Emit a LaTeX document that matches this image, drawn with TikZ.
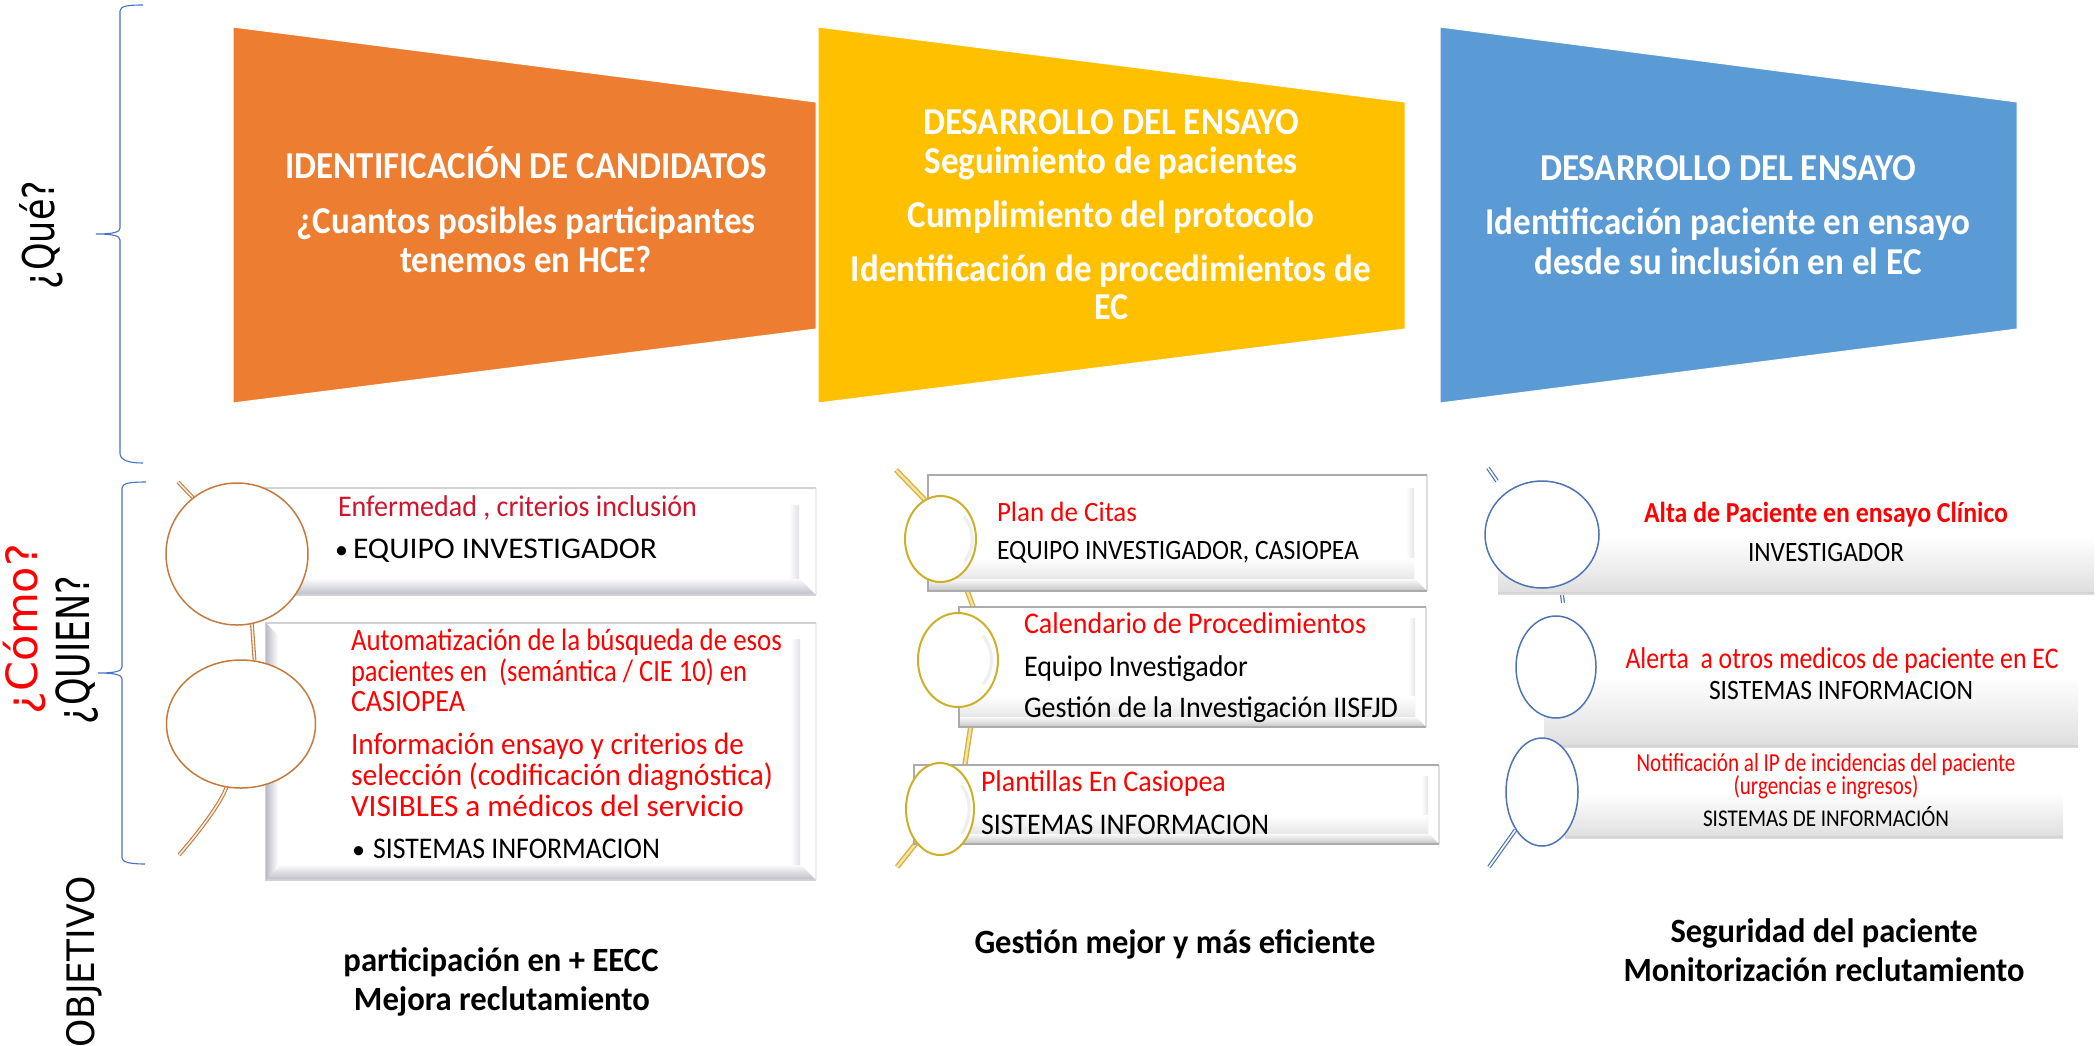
\documentclass[tikz,border=0pt]{standalone}
\usepackage{graphicx}
\usepackage{fontspec}
\setmainfont{Carlito}
\newfontfamily\labelfont{DejaVu Sans}
\usetikzlibrary{shapes.geometric}
\pgfdeclarelayer{stems}
\pgfdeclarelayer{panels}
\pgfsetlayers{stems,panels,main}
\definecolor{cOrange}{HTML}{ED7D31}
\definecolor{cYellow}{HTML}{FFC000}
\definecolor{cBlue}{HTML}{5B9BD5}
\definecolor{cBrace}{HTML}{4472C4}
\definecolor{rimO}{HTML}{C47A3E}
\definecolor{rimY}{HTML}{CDB02A}
\definecolor{rimB}{HTML}{4E74B5}
\definecolor{stemYc}{HTML}{D8B23C}
\definecolor{stemYi}{HTML}{F3E3A6}
\definecolor{crimson}{HTML}{D0142C}
\definecolor{bandL}{HTML}{BDBDC9}
\definecolor{bandM}{HTML}{C4C4C4}
\definecolor{edgeL}{HTML}{D2D2D2}
\definecolor{edgeM}{HTML}{ABABAB}
\definecolor{fadeR}{HTML}{DEDEDE}
\newcommand\fitw[3]{\resizebox{#1pt}{\height}{\fontsize{#2}{#2}\selectfont #3}}
\newcommand\bevelpanel[7]{%
  \fill[white] (#1,#2) rectangle (#3,#4);
  \shade[top color=white,bottom color=#6] (#1,#4-#5) -- (#3-#5,#4-#5) -- (#3,#4) -- (#1,#4) -- cycle;
  \shade[left color=white,right color=#6!45] (#3-#5*1.6,#2+#5) -- (#3-#5,#2+#5) -- (#3-#5,#4-#5) -- (#3-#5*1.6,#4-#5) -- cycle;
  \draw[#7!40,line width=1.6pt] (#3,#2) -- (#3,#4);
  \draw[#7,line width=1.6pt] (#3,#4) -- (#1,#4) -- (#1,#2) -- (#3,#2);
}
\newcommand\softband[4]{%
  \shade[top color=white,bottom color=gray!18] (#1,#3) rectangle (#2,#4);
}
\newcommand\fadepanel[5]{%
  \shade[top color=white,bottom color=#5] (#1,#2) rectangle (#3,#4);
  \fill[#5!85!black,opacity=.3] (#1,#4-2) rectangle (#3,#4);
}
\tikzset{
  funnel/.style={draw=white,line width=1pt},
  brace/.style={draw=cBrace,line width=1.1pt},
  tl/.style={anchor=base west,inner sep=0pt,outer sep=0pt},
  tc/.style={anchor=base,inner sep=0pt,outer sep=0pt},
  side/.style={anchor=center,rotate=90,inner sep=0pt,font=\labelfont},
  head/.style={tc,text=white,font=\bfseries},
  red/.style={text=red},
  blk/.style={text=black},
  lens/.style={ellipse,fill=white,inner sep=0pt,line width=1.5pt},
  lensY/.style={lens,draw=rimY,line width=2pt},
  shine/.style={draw=gray!13,line width=3pt,line cap=round},
  stemO/.style={draw=rimO,double=white!85!rimO,double distance=1.6pt,line width=1.1pt},
  stemY/.style={draw=stemYc,double=stemYi,double distance=2.4pt,line width=1.4pt},
  stemB/.style={draw=rimB,double=white,double distance=1.6pt,line width=1.2pt},
}
\begin{document}
\begin{tikzpicture}[x=1pt,y=-1pt]
\useasboundingbox (0,0) rectangle (2100,1045);
% funnels
\fill[cOrange,funnel] (233,27) -- (816,102) -- (816,329) -- (233,403) -- cycle;
\fill[cYellow,funnel] (818,27) -- (1405,102) -- (1405,329) -- (818,403) -- cycle;
\fill[cBlue,funnel] (1440,27) -- (2017,102) -- (2017,329) -- (1440,403) -- cycle;
% braces
\draw[brace] (143,5) .. controls (128,5) and (120,6) .. (120,11) -- (120,228) .. controls (120,232) and (114,234) .. (96,234) .. controls (114,234) and (120,236) .. (120,240) -- (120,453) .. controls (120,460) and (128,463) .. (143,463);
\draw[brace] (146,482) .. controls (131,482) and (122,483) .. (122,488) -- (122,667) .. controls (122,671) and (116,673) .. (98,673) .. controls (116,673) and (122,675) .. (122,679) -- (122,858) .. controls (122,862) and (130,864) .. (145,864);
% side labels
\node[side] (lblQue) at (41,235) {\scalebox{1}[1.25]{\fontsize{35}{35}\selectfont ¿Qué?}};
\node[side,text=red] (lblComo) at (25,629) {\fontsize{43}{43}\selectfont ¿Cómo?};
\node[side] (lblQuien) at (77,650) {\scalebox{1}[1.3]{\fontsize{35}{35}\selectfont ¿QUIEN?}};
\node[side] (lblObj) at (84,962) {\scalebox{1}[1.05]{\fontsize{36}{36}\selectfont OBJETIVO}};
% funnel text
\node[head] (a1) at (526,178) {\fitw{481}{38}{IDENTIFICACIÓN DE CANDIDATOS}};
\node[head] (a2) at (526,233) {\fitw{459}{38}{¿Cuantos posibles participantes}};
\node[head] (a3) at (526,272) {\fitw{252}{38}{tenemos en HCE?}};
\node[head] (b1) at (1111,134) {\fitw{376}{38}{DESARROLLO DEL ENSAYO}};
\node[head] (b2) at (1111,173) {\fitw{373}{38}{Seguimiento de pacientes}};
\node[head] (b3) at (1111,227) {\fitw{407}{38}{Cumplimiento del protocolo}};
\node[head] (b4) at (1111,281) {\fitw{520}{38}{Identificación de procedimientos de}};
\node[head] (b5) at (1111,319) {\fitw{34}{38}{EC}};
\node[head] (c1) at (1728,180) {\fitw{376}{38}{DESARROLLO DEL ENSAYO}};
\node[head] (c2) at (1728,234) {\fitw{485}{38}{Identificación paciente en ensayo}};
\node[head] (c3) at (1728,274) {\fitw{387}{38}{desde su inclusión en el EC}};
% lenses
\node[lens,draw=rimO,minimum width=142pt,minimum height=142pt] (L1) at (237,554) {};
\node[lens,draw=rimO,minimum width=149pt,minimum height=128pt] (L2) at (241,724) {};
\node[lensY,minimum width=71pt,minimum height=86pt] (M1) at (940.5,539) {};
\node[lensY,minimum width=80pt,minimum height=94pt] (M2) at (958,660) {};
\node[lensY,minimum width=68pt,minimum height=92pt] (M3) at (940,809) {};
\node[lens,draw=rimB,minimum width=114pt,minimum height=107pt] (R1) at (1542,534.5) {};
\node[lens,draw=rimB,minimum width=80pt,minimum height=102pt] (R2) at (1556,667) {};
\node[lens,draw=rimB,minimum width=72pt,minimum height=108pt] (R3) at (1542,792) {};
% soft highlights inside the yellow lenses
\draw[shine] (M1.center) ++(24,-22) arc[start angle=-42,end angle=42,x radius=30,y radius=33];
\draw[shine] (M2.center) ++(25,-24) arc[start angle=-42,end angle=42,x radius=33,y radius=36];
\draw[shine] (M3.center) ++(22,-23) arc[start angle=-42,end angle=42,x radius=28,y radius=35];
\coordinate (endL0) at (178,482);
\coordinate (endL3) at (179,855);
\coordinate (endM0) at (896,470);
\coordinate (endM1) at (975,612);
\coordinate (endM3) at (897,867);
\coordinate (endR0) at (1488,468);
\coordinate (endR0b) at (1497,481);
\coordinate (endR1a) at (1562,595);
\coordinate (endR1b) at (1563,603);
\coordinate (endR3) at (1489,867);
\begin{pgfonlayer}{stems}
\draw[stemO] (endL0) -- (L1.128);
\draw[stemO] (L1.-78) -- (L2.78);
\draw[stemO] (L2.-103) .. controls (222,800) and (205,825) .. (endL3);
\draw[stemY] (endM0) -- (M1.112);
\draw[stemY] (M1.-60) -- (endM1);
\draw[stemY] (M2.-70) -- (M3.56);
\draw[stemY] (M3.-125) -- (endM3);
\draw[stemB] (endR0) -- (endR0b);
\draw[stemB] (endR1a) -- (endR1b);
\draw[stemB] (R3.-125) -- (endR3);
\end{pgfonlayer}
\begin{pgfonlayer}{panels}
\bevelpanel{215}{488}{816}{595}{17}{bandL}{edgeL}
\bevelpanel{266}{623}{816}{880}{16}{bandL}{edgeL}
\shade[left color=bandL,right color=white] (266,623) -- (278,635) -- (278,868) -- (266,880) -- cycle;
\bevelpanel{928}{475}{1427}{591}{13}{bandM}{edgeM}
\softband{929}{1414}{558}{578}
\bevelpanel{959}{607}{1426}{727}{11}{bandM}{edgeM}
\softband{960}{1415}{696}{716}
\bevelpanel{914}{765}{1439}{844}{11}{bandM}{edgeM}
\softband{915}{1428}{815}{833}
\fadepanel{1498}{537}{2094}{594}{fadeR}
\fadepanel{1544}{677}{2078}{747}{fadeR}
\fadepanel{1565}{793}{2063}{838}{fadeR}
\end{pgfonlayer}
% panel texts, left
\node[tl,text=crimson] (t1) at (338,516) {\fitw{359}{30}{Enfermedad , criterios inclusión}};
\node[tl,blk] (t2) at (335,558) {\fontsize{26}{26}\selectfont •};
\node[tl,blk] (t3) at (353,558) {\fitw{304}{30}{EQUIPO INVESTIGADOR}};
\node[tl,red] (t4) at (351,650) {\fitw{431}{31}{Automatización de la búsqueda de esos}};
\node[tl,red] (t5) at (351,681) {\fitw{396}{31}{pacientes en\ \ (semántica / CIE 10) en}};
\node[tl,red] (t6) at (351,711) {\fitw{114}{31}{CASIOPEA}};
\node[tl,red] (t7) at (351,754) {\fitw{393}{31}{Información ensayo y criterios de}};
\node[tl,red] (t8) at (351,785) {\fitw{422}{31}{selección (codificación diagnóstica)}};
\node[tl,red] (t9) at (351,816) {\fitw{393}{31}{VISIBLES a médicos del servicio}};
\node[tl,blk] (t10) at (352,858) {\fontsize{26}{26}\selectfont •};
\node[tl,blk] (t11) at (373,858) {\fitw{287}{30}{SISTEMAS INFORMACION}};
% panel texts, middle
\node[tl,red] (m1) at (997,521) {\fitw{140}{28}{Plan de Citas}};
\node[tl,blk] (m2) at (997,559) {\fitw{362}{28}{EQUIPO INVESTIGADOR, CASIOPEA}};
\node[tl,red] (m3) at (1024,633) {\fitw{342}{30}{Calendario de Procedimientos}};
\node[tl,blk] (m4) at (1024,676) {\fitw{224}{30}{Equipo Investigador}};
\node[tl,blk] (m5) at (1024,717) {\fitw{374}{30}{Gestión de la Investigación IISFJD}};
\node[tl,red] (m6) at (981,791) {\fitw{245}{30}{Plantillas En Casiopea}};
\node[tl,blk] (m7) at (981,834) {\fitw{288}{30}{SISTEMAS INFORMACION}};
% panel texts, right
\node[tc,red,font=\bfseries] (r1) at (1826,522) {\fitw{364}{29}{Alta de Paciente en ensayo Clínico}};
\node[tc,blk] (r2) at (1826,561) {\fitw{156}{28}{INVESTIGADOR}};
\node[tc,red] (r3) at (1842,668) {\fitw{433}{30}{Alerta\ \ a otros medicos de paciente en EC}};
\node[tc,blk] (r4) at (1841,699) {\fitw{264}{28}{SISTEMAS INFORMACION}};
\node[tc,red] (r5) at (1826,771) {\fitw{379}{26}{Notificación al IP de incidencias del paciente}};
\node[tc,red] (r6) at (1826,794) {\fitw{185}{26}{(urgencias e ingresos)}};
\node[tc,blk] (r7) at (1826,826) {\fitw{246}{24}{SISTEMAS DE INFORMACIÓN}};
% objectives
\node[tc,blk,font=\bfseries] (o1) at (501,971) {\fitw{315}{34}{participación en + EECC}};
\node[tc,blk,font=\bfseries] (o2) at (502,1010) {\fitw{296}{34}{Mejora reclutamiento}};
\node[tc,blk,font=\bfseries] (o3) at (1175,953) {\fitw{401}{34}{Gestión mejor y más eficiente}};
\node[tc,blk,font=\bfseries] (o4) at (1824,942) {\fitw{307}{34}{Seguridad del paciente}};
\node[tc,blk,font=\bfseries] (o5) at (1824,981) {\fitw{401}{34}{Monitorización reclutamiento}};
\end{tikzpicture}
\end{document}
